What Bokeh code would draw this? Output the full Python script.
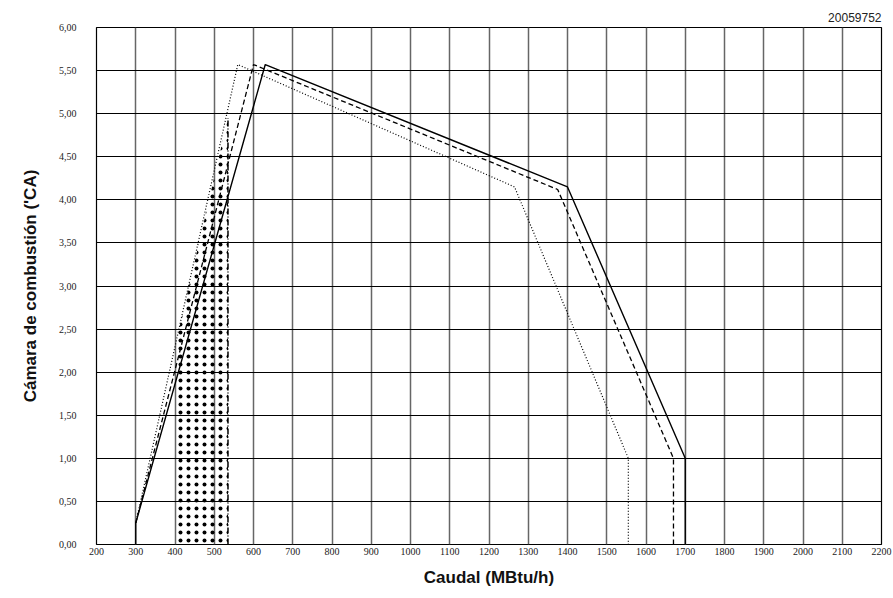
from bokeh.plotting import figure
from bokeh.embed import file_html
from bokeh.resources import INLINE
from bokeh.models import FixedTicker, Title, Range1d

# data
x_ticks = list(range(200, 2201, 100))
y_ticks = [0, 0.5, 1, 1.5, 2, 2.5, 3, 3.5, 4, 4.5, 5, 5.5, 6]
y_tick_labels = {v: f"{v:.2f}".replace(".", ",") for v in y_ticks}

x_solid = [300, 300, 630, 1400, 1700, 1700]
y_solid = [0, 0.25, 5.57, 4.15, 1.0, 0]

x_dash = [300, 600, 1375, 1670, 1670]
y_dash = [0.25, 5.57, 4.12, 1.0, 0]

x_dot = [300, 560, 1265, 1555, 1555]
y_dot = [0.25, 5.57, 4.15, 1.0, 0]

shade_x = [400, 400, 535, 535]
shade_y = [0, 2.30, 4.95, 0]

edge_x = [535, 535]
edge_y = [0, 4.95]

p = figure(width=893, height=598, output_backend="svg", toolbar_location=None,
           x_range=Range1d(200, 2200), y_range=Range1d(0, 6),
           min_border_left=96, min_border_right=12, min_border_bottom=54, min_border_top=27)

p.add_layout(Title(text="20059752", align="right", text_font_size="12px",
                   text_font_style="normal", text_font="Liberation Sans",
                   text_color="#222222", standoff=11), "above")

p.outline_line_color = "black"
p.outline_line_width = 1.2
p.background_fill_color = "white"
p.border_fill_color = "white"

p.xgrid.ticker = FixedTicker(ticks=x_ticks)
p.ygrid.ticker = FixedTicker(ticks=y_ticks)
p.xgrid.grid_line_color = "#666666"
p.xgrid.grid_line_width = 1.5
p.ygrid.grid_line_color = "black"
p.ygrid.grid_line_width = 1.1

for ax in (p.xaxis[0], p.yaxis[0]):
    ax.axis_line_color = None
    ax.major_tick_line_color = None
    ax.minor_tick_line_color = None
    ax.major_tick_out = 0
    ax.major_tick_in = 0
    ax.minor_tick_out = 0
    ax.minor_tick_in = 0
    ax.major_label_text_font = "Liberation Sans Narrow"
    ax.major_label_text_font_size = "10px"
    ax.major_label_text_color = "#222222"
    ax.axis_label_text_font = "Liberation Sans"
    ax.axis_label_text_font_style = "bold"
    ax.axis_label_text_font_size = "17px"
    ax.axis_label_text_color = "#111111"

p.xaxis.ticker = FixedTicker(ticks=x_ticks)
p.yaxis.ticker = FixedTicker(ticks=y_ticks)
p.yaxis.major_label_overrides = y_tick_labels
p.xaxis.major_label_standoff = 3
p.yaxis.major_label_standoff = 20
p.xaxis.axis_label = "Caudal (MBtu/h)"
p.yaxis.axis_label = "Cámara de combustión ('CA)"
p.xaxis.axis_label_standoff = 10
p.yaxis.axis_label_standoff = 16

p.patch(shade_x, shade_y, fill_color=None, line_color=None,
        hatch_pattern="dot", hatch_color="black", hatch_scale=8, hatch_weight=0.2)
p.line(edge_x, edge_y, line_color="black", line_width=1.5, line_dash="6 2 1 2")

p.line(x_dot, y_dot, line_color="black", line_width=1.2, line_dash="1 2")
p.line(x_dash, y_dash, line_color="black", line_width=1.3, line_dash="5 3")
p.line(x_solid, y_solid, line_color="black", line_width=1.4)

open("out.html", "w").write(file_html(p, INLINE))
